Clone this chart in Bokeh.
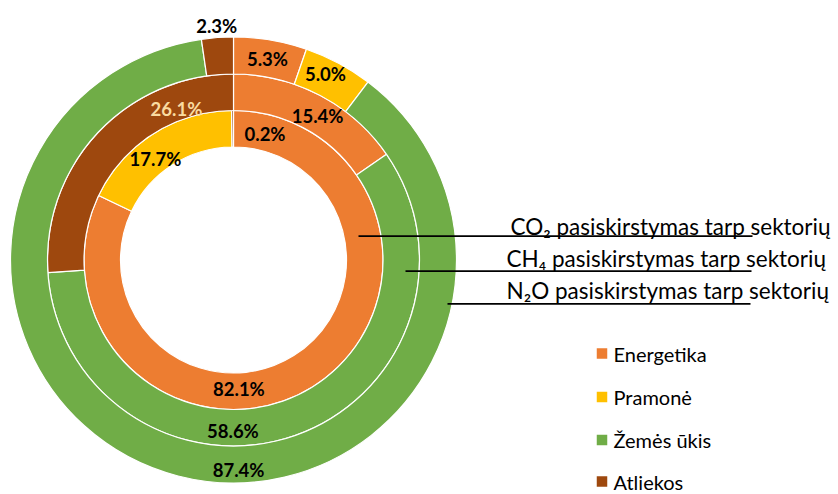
import numpy as np
from bokeh.plotting import figure
from bokeh.models import Range1d, ColumnDataSource
from bokeh.embed import file_html
from bokeh.resources import INLINE
from bokeh.core.properties import value

# ---------------- data ----------------
sectors = ["Energetika", "Pramonė", "Žemės ūkis", "Atliekos"]
colors = ["#ED7D31", "#FFC000", "#70AD47", "#9E480E"]
ring_titles = ["CO₂ pasiskirstymas tarp sektorių",
               "CH₄ pasiskirstymas tarp sektorių",
               "N₂O pasiskirstymas tarp sektorių"]
co2 = [82.1, 17.7, 0.0, 0.2]
ch4 = [15.4, 0.0, 58.6, 26.1]
n2o = [5.3, 5.0, 87.4, 2.3]
rings = [co2, ch4, n2o]          # inner -> outer

# ---------------- layout (pixels) ----------------
W, H = 838, 494
def fx(X): return X
def fy(Y): return H - Y

CX, CY = fx(233), fy(259.5)
radii = [(113, 149.5), (149.5, 186), (186, 223)]
# label placement: (angle clockwise from top in degrees, radius) per ring per sector; None = no label
label_pos = [
    [(177.6, 129.1), (322.3, 127.6), None, (14.1, 129.4)],
    [(30.2, 167.1), None, (180.2, 171.5), (339.3, 161.4)],
    [(9.6, 203.4), (26.3, 207.5), (178.6, 209.6), (355.9, 235.1)],
]
label_colors = [
    ["black", "black", "black", "black"],
    ["black", "black", "black", "#FADBA0"],
    ["black", "black", "black", "black"],
]

p = figure(width=W, height=H, x_range=Range1d(0, W), y_range=Range1d(0, H),
           min_border=0, toolbar_location=None, output_backend="svg",
           x_axis_location=None, y_axis_location=None, outline_line_color=None,
           background_fill_color="white", border_fill_color="white")
p.xgrid.visible = False
p.ygrid.visible = False

FONT = value("Lato")

# rings
for ri, vals in enumerate(rings):
    total = float(sum(vals))
    cum = np.concatenate([[0.0], np.cumsum(vals)]) / total * 360.0
    keep = [i for i, v in enumerate(vals) if v > 0]
    th1, th2 = cum[:-1][keep], cum[1:][keep]
    src = ColumnDataSource(dict(
        start=np.radians(90.0 - th2), end=np.radians(90.0 - th1),
        color=[colors[i] for i in keep], name=[sectors[i] for i in keep]))
    p.annular_wedge(x=CX, y=CY, inner_radius=radii[ri][0], outer_radius=radii[ri][1],
                    start_angle="start", end_angle="end", fill_color="color",
                    line_color="white", line_width=1.2, source=src)

# data labels
lx, ly, lt, lc = [], [], [], []
for ri, vals in enumerate(rings):
    for si, v in enumerate(vals):
        pos = label_pos[ri][si]
        if pos is None or v <= 0:
            continue
        a, r = pos
        lx.append(CX + r * np.sin(np.radians(a)))
        ly.append(CY + r * np.cos(np.radians(a)))
        lt.append(f"{v:.1f}%")
        lc.append(label_colors[ri][si])
p.text(x=lx, y=ly, text=lt, text_color=lc, text_font=FONT, text_font_style="bold",
       text_font_size="18.5px", text_align="center", text_baseline="middle")

# ring leader lines and titles
line_x0 = [fx(358), fx(405), fx(447)]
line_x1 = [fx(752), fx(751), fx(750)]
line_y = [fy(235.7), fy(270.7), fy(303.3)]
title_x = [fx(510), fx(506), fx(506)]
title_y = [fy(226), fy(257.5), fy(290)]
p.segment(x0=line_x0, y0=line_y, x1=line_x1, y1=line_y, line_color="black", line_width=1.8)
p.text(x=title_x, y=title_y, text=ring_titles, text_font=FONT, text_font_size="22.5px",
       text_color="black", text_align="left", text_baseline="alphabetic")

# legend
leg_y = [fy(Y) for Y in (353, 396.5, 439.5, 481)]
p.rect(x=[fx(601.5)] * 4, y=leg_y, width=10.5, height=10.5, fill_color=colors, line_color=None)
p.text(x=[fx(613)] * 4, y=leg_y, text=sectors, text_font=FONT, text_font_size="20px",
       text_color="black", text_align="left", text_baseline="middle")

open("out.html", "w").write(file_html(p, INLINE))
